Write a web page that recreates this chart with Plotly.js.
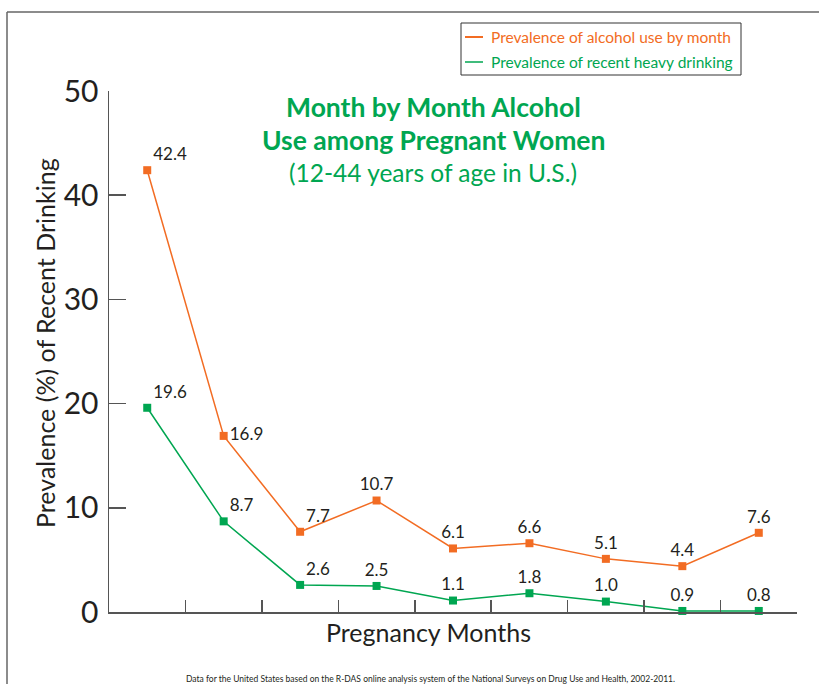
<!DOCTYPE html>
<html><head><meta charset="utf-8">
<script src="https://cdn.plot.ly/plotly-3.0.1.min.js"></script>
<style>html,body{margin:0;padding:0;background:#fff}#chart{width:819px;height:684px}</style>
</head><body><div id="chart"></div>
<script>
const months = [1, 2, 3, 4, 5, 6, 7, 8, 9];
const alcoholUse = [42.4, 16.9, 7.7, 10.7, 6.1, 6.6, 5.1, 4.4, 7.6];
const alcoholLabels = ['42.4', '16.9', '7.7', '10.7', '6.1', '6.6', '5.1', '4.4', '7.6'];
const heavyDrinking = [19.6, 8.7, 2.6, 2.5, 1.1, 1.8, 1.0, 0.1, 0.1];
const heavyLabels = ['19.6', '8.7', '2.6', '2.5', '1.1', '1.8', '1.0', '0.9', '0.8'];
const seriesNames = ['Prevalence of alcohol use by month', 'Prevalence of recent heavy drinking'];
const yTicks = [0, 10, 20, 30, 40, 50];
const titleLines = ['Month by Month Alcohol', 'Use among Pregnant Women', '(12-44 years of age in U.S.)'];

const ORANGE = '#f26c23', GREEN = '#00a651', INK = '#231f20', AXIS = '#555555';
const FONT = 'Lato, "Open Sans", sans-serif';
const PL = 109, PR = 797, PT = 91, PB = 612;
const fx = x => (x - PL) / (PR - PL);
const fy = y => (PB - y) / (PB - PT);

const traces = [
  {
    x: months, y: alcoholUse, text: alcoholLabels, name: seriesNames[0],
    type: 'scatter', mode: 'lines+markers+text', showlegend: false, cliponaxis: false,
    line: {color: ORANGE, width: 1.5},
    marker: {symbol: 'square', size: 8, color: ORANGE},
    textposition: ['top right', 'middle right', 'top right', 'top center', 'top center', 'top center', 'top center', 'top center', 'top center'],
    textfont: {family: FONT, size: 17, color: INK},
    hoverinfo: 'x+y'
  },
  {
    x: months, y: heavyDrinking, text: heavyLabels, name: seriesNames[1],
    type: 'scatter', mode: 'lines+markers+text', showlegend: false, cliponaxis: false,
    line: {color: GREEN, width: 1.5},
    marker: {symbol: 'square', size: 8, color: GREEN},
    textposition: ['top right', 'top right', 'top right', 'top center', 'top center', 'top center', 'top center', 'top center', 'top center'],
    textfont: {family: FONT, size: 17, color: INK},
    hoverinfo: 'x+y'
  }
];

const layout = {
  width: 819, height: 684,
  margin: {l: PL, r: 819 - PR, t: PT, b: 684 - PB},
  paper_bgcolor: '#ffffff', plot_bgcolor: '#ffffff',
  font: {family: FONT, color: INK},
  showlegend: false,
  xaxis: {
    range: [0.5, 9.5], tickvals: months.map(m => m + 0.5), showticklabels: false,
    ticks: 'inside', ticklen: 12, tickwidth: 1.5, tickcolor: AXIS,
    showline: true, linecolor: AXIS, linewidth: 1.5, showgrid: false, zeroline: false
  },
  yaxis: {
    range: [0, 50], tickvals: yTicks, ticktext: yTicks.map(String),
    ticks: 'inside', ticklen: 17, tickwidth: 1.5, tickcolor: AXIS,
    tickfont: {family: FONT, size: 30, color: INK}, ticklabelstandoff: 3,
    showline: true, linecolor: AXIS, linewidth: 1.5, showgrid: false, zeroline: false
  },
  shapes: [
    {type: 'line', xref: 'paper', yref: 'paper', x0: fx(7), x1: fx(7), y0: fy(12), y1: fy(700), line: {color: '#666', width: 1.5}},
    {type: 'line', xref: 'paper', yref: 'paper', x0: fx(7), x1: fx(830), y0: fy(12), y1: fy(12), line: {color: '#666', width: 1.5}},
    {type: 'rect', xref: 'paper', yref: 'paper', x0: fx(461), x1: fx(741), y0: fy(75), y1: fy(23), line: {color: '#333', width: 1}, fillcolor: 'rgba(0,0,0,0)'},
    {type: 'line', xref: 'paper', yref: 'paper', x0: fx(465), x1: fx(483), y0: fy(37), y1: fy(37), line: {color: ORANGE, width: 2}},
    {type: 'line', xref: 'paper', yref: 'paper', x0: fx(465), x1: fx(483), y0: fy(62), y1: fy(62), line: {color: GREEN, width: 1.5}}
  ],
  annotations: [
    {xref: 'paper', yref: 'paper', x: fx(489), y: fy(37), xanchor: 'left', yanchor: 'middle', showarrow: false,
     text: seriesNames[0], font: {family: FONT, size: 15.5, color: ORANGE}},
    {xref: 'paper', yref: 'paper', x: fx(489), y: fy(62), xanchor: 'left', yanchor: 'middle', showarrow: false,
     text: seriesNames[1], font: {family: FONT, size: 15.5, color: GREEN}},
    {xref: 'paper', yref: 'paper', x: fx(433), y: fy(107), xanchor: 'center', yanchor: 'middle', showarrow: false,
     text: '<b>' + titleLines[0] + '</b>', font: {family: FONT, size: 26.5, color: GREEN}},
    {xref: 'paper', yref: 'paper', x: fx(433), y: fy(140), xanchor: 'center', yanchor: 'middle', showarrow: false,
     text: '<b>' + titleLines[1] + '</b>', font: {family: FONT, size: 26.5, color: GREEN}},
    {xref: 'paper', yref: 'paper', x: fx(433), y: fy(172), xanchor: 'center', yanchor: 'middle', showarrow: false,
     text: titleLines[2], font: {family: FONT, size: 24.5, color: GREEN}},
    {xref: 'paper', yref: 'paper', x: fx(428), y: fy(632), xanchor: 'center', yanchor: 'middle', showarrow: false,
     text: 'Pregnancy Months', font: {family: FONT, size: 25, color: INK}},
    {xref: 'paper', yref: 'paper', x: fx(45), y: fy(343), xanchor: 'center', yanchor: 'middle', showarrow: false, textangle: -90,
     text: 'Prevalence (%) of Recent Drinking', font: {family: FONT, size: 25, color: INK}},
    {xref: 'paper', yref: 'paper', x: fx(430), y: fy(679), xanchor: 'center', yanchor: 'middle', showarrow: false,
     text: 'Data for the United States based on the R-DAS online analysis system of the National Surveys on Drug Use and Health, 2002-2011.',
     font: {family: FONT, size: 8.5, color: INK}}
  ]
};

Plotly.newPlot('chart', traces, layout, {displayModeBar: false, staticPlot: true});
</script>
</body></html>
